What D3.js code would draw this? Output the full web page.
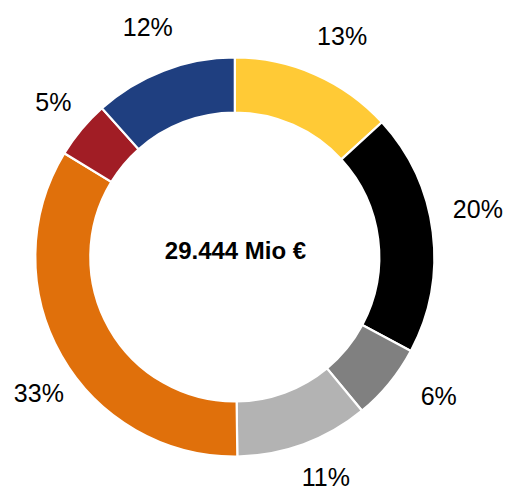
<!DOCTYPE html>
<html>
<head>
<meta charset="utf-8">
<script src="https://cdn.jsdelivr.net/npm/d3@7"></script>
<style>
  html, body { margin: 0; padding: 0; background: #fff; }
  svg { display: block; }
</style>
</head>
<body>
<svg id="chart" width="509" height="492"></svg>
<script>
// ---- data ----
const categories = ["A", "B", "C", "D", "E", "F", "G"];
const shares = [13.2, 19.6, 6.2, 10.8, 33.9, 4.7, 11.6];   // arc shares (%), clockwise from 12 o'clock
const labels = ["13%", "20%", "6%", "11%", "33%", "5%", "12%"];
const colors = ["#FFCA36", "#000000", "#808080", "#B3B3B3", "#E0700B", "#A11D25", "#1F3F80"];
const centerText = "29.444 Mio €";

// ---- layout ----
const cx = 234.8, cy = 257;
const outerR = 199.5, innerR = 144.5, labelR = 244;
const labelNudge = [[9, 2], [1, -17], [15, -15], [7, -9], [16, 15], [6, 1], [0, -2]];

const svg = d3.select("#chart");
const g = svg.append("g").attr("transform", `translate(${cx},${cy})`);

const pie = d3.pie().sort(null).value(d => d)(shares);
const arc = d3.arc().innerRadius(innerR).outerRadius(outerR);

g.selectAll("path.slice")
  .data(pie)
  .join("path")
  .attr("class", "slice")
  .attr("d", arc)
  .attr("fill", (d, i) => colors[i])
  .attr("stroke", "#fff")
  .attr("stroke-width", 2.2)
  .attr("stroke-linejoin", "miter");

g.selectAll("text.lbl")
  .data(pie)
  .join("text")
  .attr("class", "lbl")
  .attr("x", (d, i) => labelR * Math.sin((d.startAngle + d.endAngle) / 2) + labelNudge[i][0])
  .attr("y", (d, i) => -labelR * Math.cos((d.startAngle + d.endAngle) / 2) + labelNudge[i][1])
  .attr("dy", "0.36em")
  .attr("text-anchor", "middle")
  .attr("font-family", "'Liberation Sans', Arial, sans-serif")
  .attr("font-size", 25)
  .attr("fill", "#000")
  .text((d, i) => labels[i]);

g.append("text")
  .attr("x", 0.7)
  .attr("y", -6.5)
  .attr("dy", "0.36em")
  .attr("text-anchor", "middle")
  .attr("font-family", "'Liberation Sans', Arial, sans-serif")
  .attr("font-weight", "bold")
  .attr("font-size", 24)
  .attr("fill", "#000")
  .text(centerText);
</script>
</body>
</html>
